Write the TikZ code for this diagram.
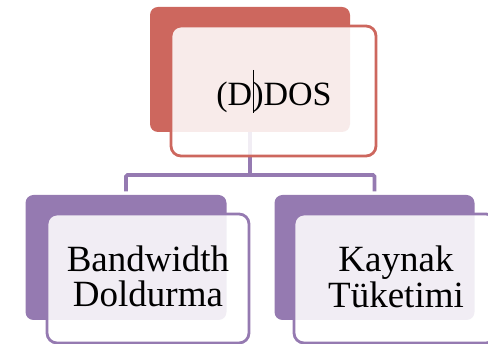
\documentclass[tikz,border=0pt]{standalone}
\usepackage{fontspec}
\setmainfont{Liberation Serif}
\definecolor{rosso}{RGB}{205,103,94}
\definecolor{viola}{RGB}{149,122,177}
\tikzset{
  backbox/.style={rectangle, rounded corners=8pt, inner sep=0pt, fill=#1},
  frontbox/.style={rectangle, rounded corners=10pt, inner sep=0pt, draw=#1, line width=2.8pt, fill=white, fill opacity=0.87, draw opacity=1},
  conn/.style={draw=viola, line width=3.8pt, rounded corners=1.5pt},
  lbl/.style={anchor=base, inner sep=0pt, text=black, font=\fontsize{#1}{#1}\selectfont},
}
\begin{document}
\begin{tikzpicture}[x=1pt,y=-1pt]
\useasboundingbox (0,0) rectangle (488,344);
\clip (0,0) rectangle (488,344);

% top level
\node[backbox=rosso, minimum width=200pt, minimum height=125pt] (tb) at (250,69.5) {};
\coordinate (j) at (250,175);
\draw[conn] (tb.south) -- (j);
\node[frontbox=rosso, minimum width=205pt, minimum height=130pt] (tf) at (273.5,91) {};
\node[lbl=34] (ttxt) at (274,106) {(D)DOS};
\draw[black, line width=0.8pt] (253,70) coordinate (c1) -- (253,113) coordinate (c2);

% second level
\node[backbox=viola, minimum width=201pt, minimum height=125pt] (lb) at (126,257.5) {};
\node[backbox=viola, minimum width=200pt, minimum height=125pt] (rb) at (374.5,257.5) {};
\draw[conn, shorten <=3.5pt, shorten >=3.5pt] (lb.north) |- (j) -| (rb.north);

\node[frontbox=viola, minimum width=202pt, minimum height=129pt] (lf) at (148,278.5) {};
\node[frontbox=viola, minimum width=202pt, minimum height=129pt] (rf) at (395,278.5) {};

\node[lbl=37] (l1) at (148,272) {Bandwidth};
\node[lbl=37] (l2) at (148,307) {Doldurma};
\node[lbl=37] (r1) at (396,272) {Kaynak};
\node[lbl=37] (r2) at (396,307.5) {Tüketimi};
\end{tikzpicture}
\end{document}
